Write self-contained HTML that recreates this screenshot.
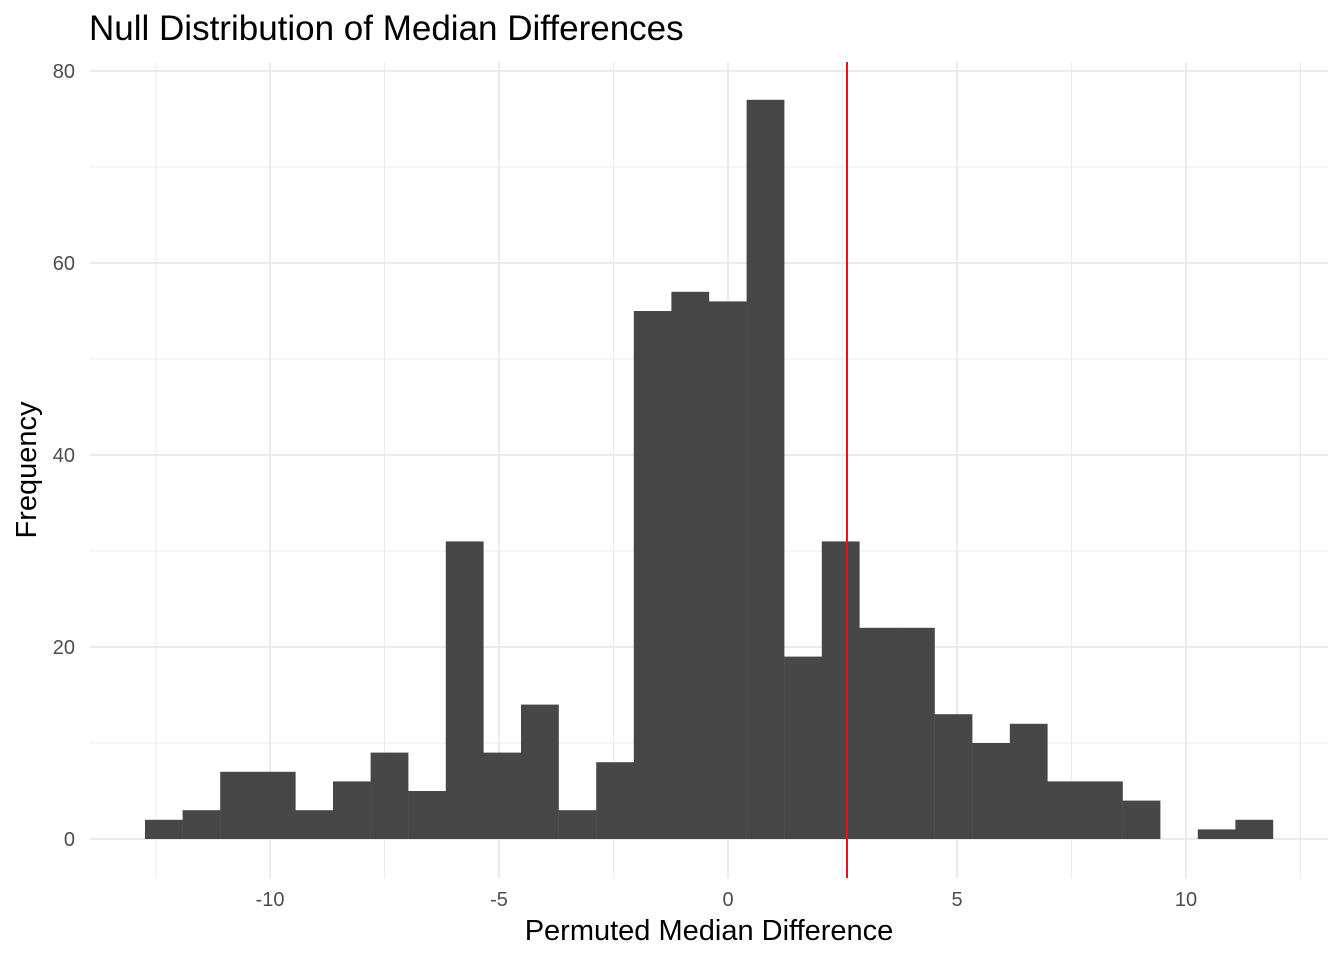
<!DOCTYPE html>
<html><head><meta charset="utf-8"><style>html,body{margin:0;padding:0;background:#fff;}</style></head>
<body>
<svg width="1344" height="960" xmlns="http://www.w3.org/2000/svg" font-family="Liberation Sans, sans-serif">
<rect width="1344" height="960" fill="#fff"/>
<g stroke="#ebebeb" stroke-width="1">
<line x1="90" x2="1328" y1="743" y2="743"/><line x1="90" x2="1328" y1="551" y2="551"/>
<line x1="90" x2="1328" y1="359" y2="359"/><line x1="90" x2="1328" y1="167" y2="167"/>
<line y1="62" y2="878" x1="156" x2="156"/><line y1="62" y2="878" x1="384.5" x2="384.5"/>
<line y1="62" y2="878" x1="613.5" x2="613.5"/><line y1="62" y2="878" x1="842.5" x2="842.5"/>
<line y1="62" y2="878" x1="1071.5" x2="1071.5"/><line y1="62" y2="878" x1="1300.5" x2="1300.5"/>
</g>
<g stroke="#ebebeb" stroke-width="2">
<line x1="90" x2="1328" y1="839" y2="839"/><line x1="90" x2="1328" y1="647" y2="647"/>
<line x1="90" x2="1328" y1="455" y2="455"/><line x1="90" x2="1328" y1="263" y2="263"/>
<line x1="90" x2="1328" y1="71" y2="71"/>
<line y1="62" y2="878" x1="270" x2="270"/><line y1="62" y2="878" x1="499" x2="499"/>
<line y1="62" y2="878" x1="728" x2="728"/><line y1="62" y2="878" x1="957" x2="957"/>
<line y1="62" y2="878" x1="1186" x2="1186"/>
</g>
<g fill="#474747">
<rect x="145" y="819.8" width="37.8" height="19.2"/>
<rect x="182.6" y="810.2" width="37.8" height="28.8"/>
<rect x="220.2" y="771.8" width="37.8" height="67.2"/>
<rect x="257.8" y="771.8" width="37.8" height="67.2"/>
<rect x="295.4" y="810.2" width="37.8" height="28.8"/>
<rect x="333" y="781.4" width="37.8" height="57.6"/>
<rect x="370.6" y="752.6" width="37.8" height="86.4"/>
<rect x="408.2" y="791" width="37.8" height="48"/>
<rect x="445.8" y="541.4" width="37.8" height="297.6"/>
<rect x="483.4" y="752.6" width="37.8" height="86.4"/>
<rect x="521" y="704.6" width="37.8" height="134.4"/>
<rect x="558.6" y="810.2" width="37.8" height="28.8"/>
<rect x="596.2" y="762.2" width="37.8" height="76.8"/>
<rect x="633.8" y="311" width="37.8" height="528"/>
<rect x="671.4" y="291.8" width="37.8" height="547.2"/>
<rect x="709" y="301.4" width="37.8" height="537.6"/>
<rect x="746.6" y="99.8" width="37.8" height="739.2"/>
<rect x="784.2" y="656.6" width="37.8" height="182.4"/>
<rect x="821.8" y="541.4" width="37.8" height="297.6"/>
<rect x="859.4" y="627.8" width="37.8" height="211.2"/>
<rect x="897" y="627.8" width="37.8" height="211.2"/>
<rect x="934.6" y="714.2" width="37.8" height="124.8"/>
<rect x="972.2" y="743" width="37.8" height="96"/>
<rect x="1009.8" y="723.8" width="37.8" height="115.2"/>
<rect x="1047.4" y="781.4" width="37.8" height="57.6"/>
<rect x="1085" y="781.4" width="37.8" height="57.6"/>
<rect x="1122.6" y="800.6" width="37.8" height="38.4"/>
<rect x="1197.8" y="829.4" width="37.8" height="9.6"/>
<rect x="1235.4" y="819.8" width="37.8" height="19.2"/>
</g>
<line x1="847" x2="847" y1="62" y2="878" stroke="#e8121e" stroke-width="2"/>
<g fill="#4d4d4d" font-size="20" text-anchor="end">
<text x="75" y="846">0</text><text x="75" y="654">20</text><text x="75" y="462">40</text>
<text x="75" y="270">60</text><text x="75" y="78">80</text>
</g>
<g fill="#4d4d4d" font-size="20" text-anchor="middle">
<text x="270" y="906">-10</text><text x="499" y="906">-5</text><text x="728" y="906">0</text>
<text x="957" y="906">5</text><text x="1186" y="906">10</text>
</g>
<text x="709" y="940" font-size="29" text-anchor="middle" fill="#000">Permuted Median Difference</text>
<text transform="translate(36,470) rotate(-90)" font-size="29" text-anchor="middle" fill="#000">Frequency</text>
<text x="89" y="40" font-size="35" fill="#000">Null Distribution of Median Differences</text>
</svg>
</body></html>
